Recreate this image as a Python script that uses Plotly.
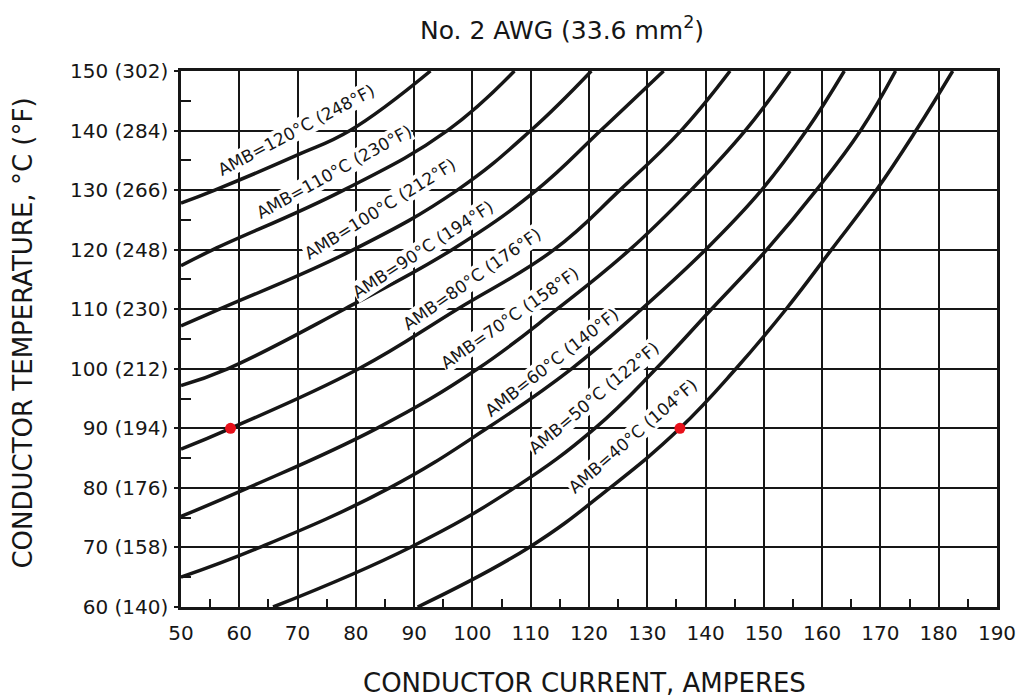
import plotly.graph_objects as go

# ---------------- data ----------------
current_ticks = [50, 60, 70, 80, 90, 100, 110, 120, 130, 140, 150, 160, 170, 180, 190]
temp_ticks_c = [60, 70, 80, 90, 100, 110, 120, 130, 140, 150]
temp_ticks_f = [140, 158, 176, 194, 212, 230, 248, 266, 284, 302]

ambient_c = [120, 110, 100, 90, 80, 70, 60, 50, 40]
ambient_f = [248, 230, 212, 194, 176, 158, 140, 122, 104]

# conductor current (A) / conductor temperature (degC)
amb120_current = [50, 55.8, 70, 79.0, 92.8]
amb120_temp = [127.8, 130, 135.9, 140, 150]

amb110_current = [50, 55.5, 77.9, 95.7, 107.2]
amb110_temp = [117.3, 120, 130, 140, 150]

amb100_current = [50, 56.6, 79.6, 97.4, 110.0, 120.4]
amb100_temp = [107.2, 110, 120, 130, 140, 150]

amb90_current = [50, 58.0, 78.0, 96.5, 111.0, 122.0, 132.8]
amb90_temp = [97.2, 100, 110, 120, 130, 140, 150]

amb80_current = [50, 58.5, 80.5, 97.4, 114.0, 125.3, 135.8, 144.2]
amb80_temp = [86.5, 90, 100, 110, 120, 130, 140, 150]

amb70_current = [50, 61.5, 83.6, 100.9, 114.5, 127.0, 137.5, 146.8, 154.5]
amb70_temp = [75.2, 80, 90, 100, 110, 120, 130, 140, 150]

amb60_current = [50, 63.5, 85.8, 102.5, 117.0, 129.0, 140.0, 149.6, 157.3, 163.8]
amb60_temp = [65.0, 70, 80, 90, 100, 110, 120, 130, 140, 150]

amb50_current = [65.8, 89.3, 107.2, 121.0, 131.5, 141.0, 150.5, 159.0, 166.6, 172.6]
amb50_temp = [60, 70, 80, 90, 100, 110, 120, 130, 140, 150]

amb40_current = [90.6, 109.7, 123.6, 135.6, 145.2, 153.8, 161.6, 169.3, 176.1, 182.4]
amb40_temp = [60, 70, 80, 90, 100, 110, 120, 130, 140, 150]

marked_current = [58.5, 135.6]
marked_temp = [90, 90]

curves_current = [amb120_current, amb110_current, amb100_current, amb90_current,
                  amb80_current, amb70_current, amb60_current, amb50_current, amb40_current]
curves_temp = [amb120_temp, amb110_temp, amb100_temp, amb90_temp,
               amb80_temp, amb70_temp, amb60_temp, amb50_temp, amb40_temp]

# ---------------- layout helpers (label placement, not data) ----------------
label_pos = [(69.8, 140.1, -28), (76.2, 133.0, -29), (84.1, 126.8, -32),
             (91.6, 120.1, -33), (99.9, 115.1, -35), (106.4, 108.5, -35),
             (113.7, 101.1, -38), (120.8, 95.1, -40), (127.5, 88.7, -41)]

FONT = "DejaVu Sans"
INK = "#161616"

fig = go.Figure()

for cur, tmp, ac in zip(curves_current, curves_temp, ambient_c):
    fig.add_trace(go.Scatter(
        x=cur, y=tmp, mode="lines", name=f"AMB={ac}°C",
        line=dict(color=INK, width=3.5, shape="spline", smoothing=1.2),
        hoverinfo="skip", showlegend=False))

fig.add_trace(go.Scatter(
    x=marked_current, y=marked_temp, mode="markers",
    marker=dict(color="#e8101a", size=11, line=dict(width=0)),
    showlegend=False, hoverinfo="skip"))

annotations = []
for (lx, ly, ang), ac, af in zip(label_pos, ambient_c, ambient_f):
    annotations.append(dict(
        x=lx, y=ly, xref="x", yref="y", showarrow=False,
        text=f"AMB={ac}°C ({af}°F)", textangle=ang,
        font=dict(family=FONT, size=17, color=INK),
        bgcolor="white", borderpad=0))

annotations.append(dict(
    text="No. 2 AWG (33.6 mm<sup>2</sup>)", x=0.467, y=1.080, xref="paper", yref="paper",
    xanchor="center", yanchor="middle",
    showarrow=False, font=dict(family=FONT, size=25, color=INK)))
annotations.append(dict(
    text="CONDUCTOR CURRENT, AMPERES", x=0.494, y=-0.142, xref="paper", yref="paper",
    xanchor="center", yanchor="middle",
    showarrow=False, font=dict(family=FONT, size=26, color=INK)))
annotations.append(dict(
    text="CONDUCTOR TEMPERATURE, °C (°F)", x=-0.193, y=0.511, xref="paper", yref="paper",
    xanchor="center", yanchor="middle",
    showarrow=False, textangle=-90, font=dict(family=FONT, size=26, color=INK)))

fig.update_layout(
    width=1028, height=700,
    margin=dict(l=181, r=25, t=71, b=93),
    paper_bgcolor="white", plot_bgcolor="white",
    annotations=annotations,
    showlegend=False,
)

fig.update_xaxes(
    range=[50, 190], tickvals=current_ticks, ticktext=[str(v) for v in current_ticks],
    showgrid=True, gridcolor=INK, gridwidth=2,
    showline=True, linecolor=INK, linewidth=2.5, mirror=True,
    ticks="", ticklabelstandoff=6,
    tickfont=dict(family=FONT, size=20, color=INK),
    minor=dict(tick0=55, dtick=10, ticks="inside", ticklen=8, tickwidth=2,
               tickcolor=INK, showgrid=False),
    zeroline=False, fixedrange=True)

fig.update_yaxes(
    range=[60, 150], tickvals=temp_ticks_c,
    ticktext=[f"{c} ({f})" for c, f in zip(temp_ticks_c, temp_ticks_f)],
    showgrid=True, gridcolor=INK, gridwidth=2,
    showline=True, linecolor=INK, linewidth=2.5, mirror=True,
    ticks="outside", ticklen=4, tickwidth=2, tickcolor=INK, ticklabelstandoff=2,
    tickfont=dict(family=FONT, size=20, color=INK),
    minor=dict(tick0=55, dtick=10, ticks="inside", ticklen=10, tickwidth=2,
               tickcolor=INK, showgrid=False),
    zeroline=False, fixedrange=True)

fig.write_html("out.html")
